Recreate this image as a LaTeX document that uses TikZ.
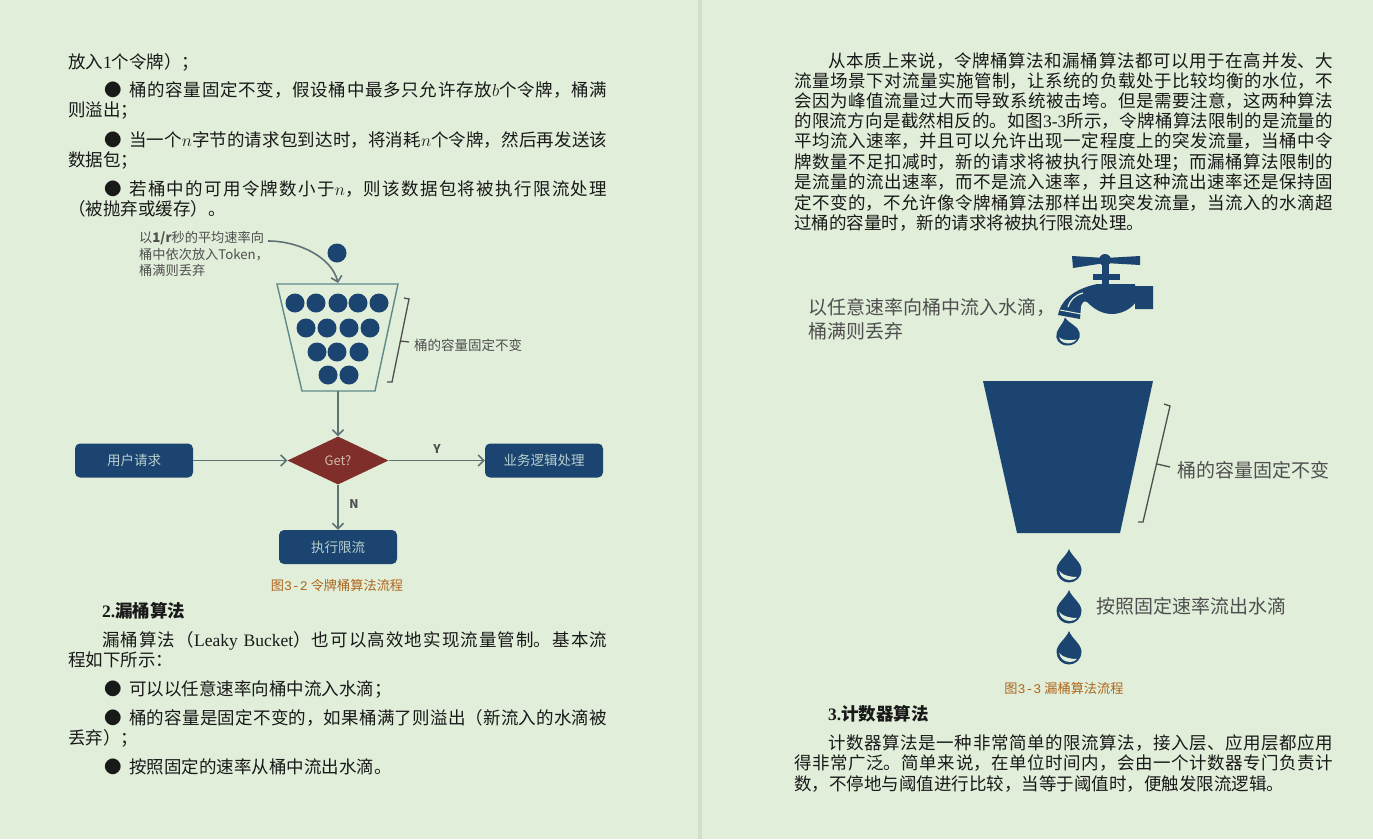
\documentclass[tikz,border=0pt]{standalone}
\usepackage{fontspec}
\setmainfont{Liberation Serif}
\newfontfamily\cjk{Noto Sans CJK SC}
\newfontfamily\capdigits{Liberation Mono}
\newcommand{\lat}[1]{{\rmfamily #1}}
\XeTeXlinebreaklocale "zh"
\XeTeXlinebreakskip=0pt plus 5pt
\tolerance=10000
\hbadness=10000
\usetikzlibrary{arrows.meta,shapes.geometric}
\definecolor{pagebg}{HTML}{E1EED9}
\definecolor{gutter}{HTML}{CFDFC8}
\definecolor{bucketblue}{HTML}{1B4570}
\definecolor{flowline}{HTML}{5F7377}
\definecolor{rimline}{HTML}{5F8A8B}
\definecolor{boxtext}{HTML}{B9CFCF}
\definecolor{diamondred}{HTML}{7F2E2A}
\definecolor{diamondtext}{HTML}{CDB9AA}
\definecolor{notetext}{HTML}{4F4F4F}
\definecolor{captiontext}{HTML}{B0661C}
\begin{document}
\begin{tikzpicture}[x=1pt,y=-1pt,font=\cjk]
\tikzset{
% Body text: full lines are stretched to the column width
full line/.style={anchor=base west,inner sep=0,text width=#1,text=black!90,
  font=\cjk\fontsize{17.5}{20}\selectfont,execute at begin node={\rightskip=0pt\parfillskip=0pt\relax}},
short line/.style={anchor=base west,inner sep=0,text=black!90,font=\cjk\fontsize{17.5}{20}\selectfont},
caption line/.style={inner sep=0,text=captiontext,font=\cjk\fontsize{13.2}{15}\selectfont},
% Flow chart of the token bucket
flow box/.style={rectangle,rounded corners=5,fill=bucketblue,minimum width=118,minimum height=34,inner sep=0,
  text=boxtext,font=\cjk\fontsize{13.5}{16}\selectfont},
flow test/.style={diamond,aspect=2.1,fill=diamondred,minimum width=101,minimum height=48,inner sep=0,
  text=diamondtext,font=\cjk\fontsize{13}{14}\selectfont},
flow link/.style={draw=flowline,line width=1.6,-{Straight Barb[length=5.5,width=11,line width=1.6]}},
token ball/.style={circle,fill=bucketblue,minimum size=19,inner sep=0},
small note/.style={inner sep=0,text=notetext,font=\cjk\fontsize{13.2}{16.5}\selectfont},
big note/.style={inner sep=0,text=notetext,font=\cjk\fontsize{19}{24}\selectfont},
yes no/.style={inner sep=0,text=notetext,font=\cjk\bfseries\fontsize{12}{13}\selectfont},
side brace/.style={draw=notetext,line width=1.3},
pics/waterdrop/.style={code={
  \fill[bucketblue] (0,-21) .. controls (-3,-13) and (-12.5,-8) .. (-12.5,0)
    .. controls (-12.5,7) and (-7,12.5) .. (0,12.5) .. controls (7,12.5) and (12.5,7) .. (12.5,0)
    .. controls (12.5,-8) and (3,-13) .. (0,-21) -- cycle;
  \fill[pagebg] (-9.8,1) .. controls (-9,7) and (-4,10) .. (1,10) .. controls (4,10) and (6,9) .. (8,7)
    .. controls (3,7) and (-6,6) .. (-9.8,1) -- cycle;
}}
}
% The two pages
\useasboundingbox (0,0) rectangle (1373,839);
\fill[pagebg] (0,0) rectangle (1373,839);
\fill[gutter] (698,0) rectangle (702,839);
% Full width lines of both pages
\foreach \lx/\lw/\ly/\lt [count=\i] in {
104/503/96/{\makebox[25pt][l]{●}桶的容量固定不变，假设桶中最多只允许存放$b$个令牌，桶满},
104/503/146/{\makebox[25pt][l]{●}当一个$n$字节的请求包到达时，将消耗$n$个令牌，然后再发送该},
104/503/195/{\makebox[25pt][l]{●}若桶中的可用令牌数小于$n$，则该数据包将被执行限流处理},
102/505/646/{漏桶算法（\lat{Leaky Bucket}）也可以高效地实现流量管制。基本流},
104/503/724/{\makebox[25pt][l]{●}桶的容量是固定不变的，如果桶满了则溢出（新流入的水滴被},
828/505/67/{从本质上来说，令牌桶算法和漏桶算法都可以用于在高并发、大},
794/539/87/{流量场景下对流量实施管制，让系统的负载处于比较均衡的水位，不},
794/539/107/{会因为峰值流量过大而导致系统被击垮。但是需要注意，这两种算法},
794/539/127/{的限流方向是截然相反的。如图\lat{3-3}所示，令牌桶算法限制的是流量的},
794/539/147/{平均流入速率，并且可以允许出现一定程度上的突发流量，当桶中令},
794/539/168/{牌数量不足扣减时，新的请求将被执行限流处理；而漏桶算法限制的},
794/539/188/{是流量的流出速率，而不是流入速率，并且这种流出速率还是保持固},
794/539/209/{定不变的，不允许像令牌桶算法那样出现突发流量，当流入的水滴超},
828/505/749/{计数器算法是一种非常简单的限流算法，接入层、应用层都应用},
794/539/769/{得非常广泛。简单来说，在单位时间内，会由一个计数器专门负责计}
}
\node (full\i) [full line=\lw pt] at (\lx,\ly) {\lt};
% Lines that end early
\foreach \lx/\ly/\lt [count=\i] in {
68/68/{放入\lat{1}个令牌）；},
68/116/{则溢出；},
68/166/{数据包；},
68/215/{（被抛弃或缓存）。},
68/666/{程如下所示：},
104/695/{\makebox[25pt][l]{●}可以以任意速率向桶中流入水滴；},
68/744/{丢弃）；},
104/773/{\makebox[25pt][l]{●}按照固定的速率从桶中流出水滴。},
794/229/{过桶的容量时，新的请求将被执行限流处理。},
794/790/{数，不停地与阈值进行比较，当等于阈值时，便触发限流逻辑。}
}
\node (short\i) [short line] at (\lx,\ly) {\lt};
\node (title2) [short line,font=\cjk\bfseries\fontsize{17.5}{20}\selectfont] at (102,617) {\lat{2.}漏桶算法};
\node (title3) [short line,font=\cjk\bfseries\fontsize{17.5}{20}\selectfont] at (828,720) {\lat{3.}计数器算法};
\node (caption2) [caption line] at (337,585) {图{\capdigits 3-2} 令牌桶算法流程};
\node (caption3) [caption line] at (1064,688) {图{\capdigits 3-3} 漏桶算法流程};
% Token bucket
\node (falling) [token ball] at (337,253) {};
\coordinate (tokenin) at (338,283);
\coordinate (tokenout) at (338,391);
\draw[rimline,line width=1.4] (277,284) -- (398,284) -- (375,391) -- (302,391) -- cycle;
\foreach \tx/\ty [count=\i] in {295/303,316/303,338/303,358/303,379/303,306/328,327/328,349/328,370/328,317/352,337/352,359/352,328/375,349/375}
\node (token\i) [token ball] at (\tx,\ty) {};
\node (tokennote) [small note,align=left,anchor=north west] at (139,231.5) {以{\bfseries 1/r}秒的平均速率向\\桶中依次放入Token，\\桶满则丢弃};
\coordinate (tokennoteend) at (268,241);
\draw[flow link] (tokennoteend) .. controls (300,241) and (332,258) .. (tokenin);
\draw[side brace] (404,298) -- (409,299) -- (392,382) -- (387,382);
\coordinate (tokenbracemid) at (400,341);
\coordinate (tokennotestart) at (409,342);
\draw[side brace] (tokenbracemid) -- (tokennotestart);
\node (tokensize) [small note,anchor=west,font=\cjk\fontsize{13.5}{16}\selectfont] at (414,345) {桶的容量固定不变};
% Flow chart
\node (request) [flow box] at (134,460.5) {用户请求};
\node (test) [flow test] at (338,460.5) {Get?};
\node (business) [flow box] at (544,460.5) {业务逻辑处理};
\node (limit) [flow box] at (338,547) {执行限流};
\draw[flow link] (tokenout) -- (test.north);
\draw[flow link] (request) -- (test);
\draw[flow link] (test) -- (business);
\draw[flow link] (test) -- (limit);
\node (yeslabel) [yes no] at (437,449) {Y};
\node (nolabel) [yes no] at (354,504) {N};
% Leaky bucket
\fill[bucketblue] (983,381) -- (1153,381) -- (1120,533) -- (1017,533) -- cycle;
\draw[side brace] (1164,404) -- (1170,406) -- (1143,522) -- (1138,522);
\coordinate (leakybracemid) at (1157,464);
\coordinate (leakynotestart) at (1170,467);
\draw[side brace] (leakybracemid) -- (leakynotestart);
\node (leakysize) [big note,anchor=west] at (1177,470) {桶的容量固定不变};
\node (inflow) [big note,align=left,anchor=north west] at (808,298) {以任意速率向桶中流入水滴，\\桶满则丢弃};
\node (outflow) [big note,anchor=west] at (1096,606) {按照固定速率流出水滴};
% Tap
\fill[bucketblue] (1072,256) -- (1105,258) -- (1140,256) -- (1140,265) -- (1105,263) -- (1073,268) -- cycle;
\fill[bucketblue] (1105,260) circle (6);
\fill[bucketblue] (1102,260) rectangle (1109,285);
\fill[bucketblue] (1093,274) rectangle (1120,280);
\fill[bucketblue] (1097,284) -- (1135,284) -- (1135,286) -- (1153,286) -- (1153,309) -- (1135,309) -- (1135,303)
  .. controls (1130,310) and (1120,314) .. (1112,314) .. controls (1103,314) and (1095,310) .. (1087,302)
  .. controls (1084,300) and (1082,303) .. (1081,306) -- (1080,319) -- (1058,315)
  .. controls (1060,303) and (1070,290) .. (1097,284) -- cycle;
\draw[pagebg,line width=1] (1060,310) -- (1081,314);
\draw[pagebg,line width=1.2] (1068,307) .. controls (1070,300) and (1075,295) .. (1083,293);
% Water drops
\pic at (1068,335) [rotate=10,xscale=0.95,yscale=0.85] {waterdrop};
\pic at (1069,570) {waterdrop};
\pic at (1069,611) {waterdrop};
\pic at (1069,652) {waterdrop};
\end{tikzpicture}
\end{document}
